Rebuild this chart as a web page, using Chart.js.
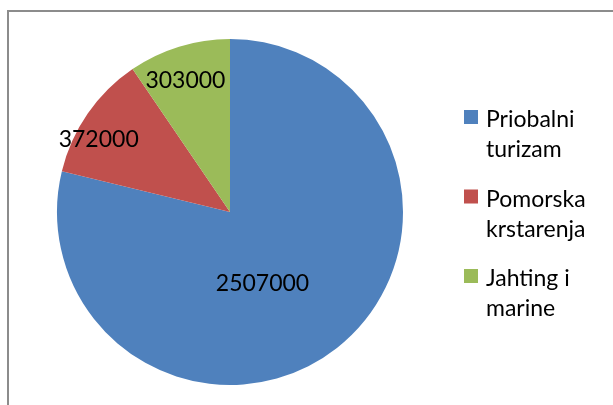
<!DOCTYPE html>
<html>
<head>
<meta charset="utf-8">
<script src="https://cdn.jsdelivr.net/npm/chart.js@4/dist/chart.umd.min.js"></script>
<style>
    html, body { margin: 0; padding: 0; background: #fff; }
    #wrap { width: 613px; height: 405px; }
</style>
</head>
<body>
<div id="wrap"><canvas id="pieChart" width="613" height="405"></canvas></div>
<script>
const categories = ['Priobalni turizam', 'Pomorska krstarenja', 'Jahting i marine'];
const values = [2507000, 372000, 303000];
const colors = ['#4F81BD', '#C0504D', '#9BBB59'];

const FONT = '23px Lato, "Open Sans", sans-serif';

// where each value label sits: angle shift from slice middle (deg), fraction of radius
const labelPlacement = [
    { shift: 13.5, r: 0.45 },
    { shift: -5.4, r: 0.87 },
    { shift: -1.5, r: 0.806 }
];

function wrapWords(ctx, text, maxWidth) {
    const words = text.split(' ');
    const lines = [];
    let line = '';
    words.forEach(word => {
        const test = line ? line + ' ' + word : word;
        if (line && ctx.measureText(test).width > maxWidth) {
            lines.push(line);
            line = word;
        } else {
            line = test;
        }
    });
    if (line) lines.push(line);
    return lines;
}

const framePlugin = {
    id: 'frame',
    beforeDraw(chart) {
        const ctx = chart.ctx;
        ctx.save();
        ctx.fillStyle = '#fff';
        ctx.fillRect(0, 0, chart.width, chart.height);
        ctx.strokeStyle = '#8c8c8c';
        ctx.lineWidth = 2;
        ctx.strokeRect(8, 11, chart.width + 20, chart.height + 20);
        ctx.restore();
    }
};

const valueLabels = {
    id: 'valueLabels',
    afterDatasetsDraw(chart) {
        const ctx = chart.ctx;
        const meta = chart.getDatasetMeta(0);
        ctx.save();
        ctx.font = FONT;
        ctx.fillStyle = '#000';
        ctx.textAlign = 'center';
        ctx.textBaseline = 'middle';
        meta.data.forEach((arc, i) => {
            const p = arc.getProps(['x', 'y', 'startAngle', 'endAngle', 'outerRadius'], true);
            const place = labelPlacement[i];
            const ang = (p.startAngle + p.endAngle) / 2 + place.shift * Math.PI / 180;
            const dist = p.outerRadius * place.r;
            ctx.fillText(String(values[i]), p.x + Math.cos(ang) * dist, p.y + Math.sin(ang) * dist + 1);
        });
        ctx.restore();
    }
};

const sideLegend = {
    id: 'sideLegend',
    afterDraw(chart) {
        const ctx = chart.ctx;
        const area = chart.chartArea;
        const boxX = area.right + 61;
        const textX = boxX + 22;
        const top = 110;
        const step = 79.5;
        const lineHeight = 30;
        ctx.save();
        ctx.font = FONT;
        ctx.textAlign = 'left';
        ctx.textBaseline = 'alphabetic';
        chart.data.labels.forEach((label, i) => {
            const y = top + i * step;
            ctx.fillStyle = colors[i];
            ctx.fillRect(boxX, y, 14, 14);
            ctx.fillStyle = '#000';
            const lines = wrapWords(ctx, label, 118);
            lines.forEach((line, j) => {
                ctx.fillText(line, textX, y + 17 + j * lineHeight);
            });
        });
        ctx.restore();
    }
};

new Chart(document.getElementById('pieChart'), {
    type: 'pie',
    data: {
        labels: categories,
        datasets: [{
            data: values,
            backgroundColor: colors,
            borderWidth: 0
        }]
    },
    options: {
        responsive: false,
        animation: false,
        layout: {
            padding: { left: 57, right: 210, top: 39, bottom: 20 }
        },
        plugins: {
            legend: { display: false },
            tooltip: { enabled: false }
        }
    },
    plugins: [framePlugin, valueLabels, sideLegend]
});
</script>
</body>
</html>
